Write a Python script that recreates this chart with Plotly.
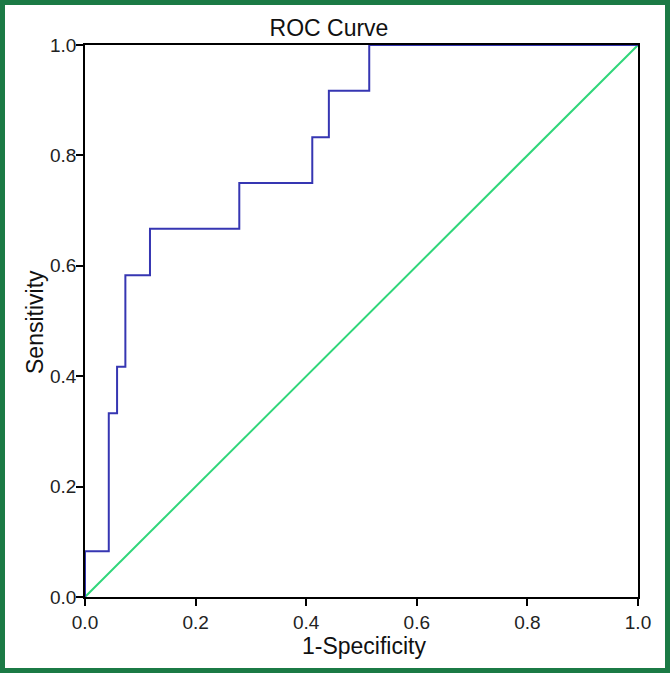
import plotly.graph_objects as go

# ROC step curve vertices (1-Specificity, Sensitivity)
fpr = [0.0, 0.0, 0.043, 0.058, 0.073, 0.1175, 0.279, 0.411, 0.441, 0.514, 1.0]
tpr = [0.0, 0.083, 0.333, 0.417, 0.583, 0.667, 0.75, 0.833, 0.917, 1.0, 1.0]
ref_x = [0.0, 1.0]
ref_y = [0.0, 1.0]
tick_vals = [0.0, 0.2, 0.4, 0.6, 0.8, 1.0]
tick_text = ["0.0", "0.2", "0.4", "0.6", "0.8", "1.0"]

W, H = 670, 673
L, R, T, B = 85, 32, 45, 76
PW, PH = W - L - R, H - T - B

def px(x):
    return (x - L) / PW

def py(y):
    return (H - B - y) / PH

FONT = "Liberation Sans, Arial, sans-serif"

fig = go.Figure()
fig.add_trace(go.Scatter(x=ref_x, y=ref_y, mode="lines",
                         line=dict(color="#30d67a", width=2), showlegend=False))
fig.add_trace(go.Scatter(x=fpr, y=tpr, mode="lines", line_shape="hv",
                         line=dict(color="#3636b2", width=2), showlegend=False))

axis_common = dict(range=[0, 1], tickvals=tick_vals, ticktext=tick_text,
                   showgrid=False, zeroline=False, showline=True,
                   linecolor="black", linewidth=1.5, mirror=True,
                   ticks="outside", ticklen=7, tickwidth=1.5, tickcolor="black",
                   tickfont=dict(family=FONT, size=19, color="#222222"))

fig.update_layout(
    width=W, height=H,
    margin=dict(l=L, r=R, t=T, b=B),
    paper_bgcolor="white", plot_bgcolor="white",
    xaxis=dict(axis_common, ticklabelstandoff=0),
    yaxis=dict(axis_common, ticklabelstandoff=-4),
    title=dict(text="ROC Curve", xref="container", yref="container",
               x=329 / W, y=1 - 28 / H, xanchor="center", yanchor="middle",
               font=dict(family=FONT, size=23, color="#111111")),
    annotations=[
        dict(text="1-Specificity", xref="paper", yref="paper",
             x=px(364), y=py(646), xanchor="center", yanchor="middle",
             showarrow=False, font=dict(family=FONT, size=23, color="#111111")),
        dict(text="Sensitivity", xref="paper", yref="paper",
             x=px(35), y=py(322), xanchor="center", yanchor="middle",
             textangle=-90, showarrow=False,
             font=dict(family=FONT, size=23, color="#111111")),
    ],
    shapes=[
        dict(type="rect", xref="paper", yref="paper",
             x0=px(2.5), x1=px(667.5), y0=py(670.5), y1=py(2.5),
             line=dict(color="#1b7a45", width=5), fillcolor="rgba(0,0,0,0)",
             layer="above"),
    ],
)

fig.write_html(
    "out.html",
    config={"displayModeBar": False},
    post_script="document.body.style.margin='0';document.body.style.padding='0';"
                "document.documentElement.style.overflow='hidden';",
)
